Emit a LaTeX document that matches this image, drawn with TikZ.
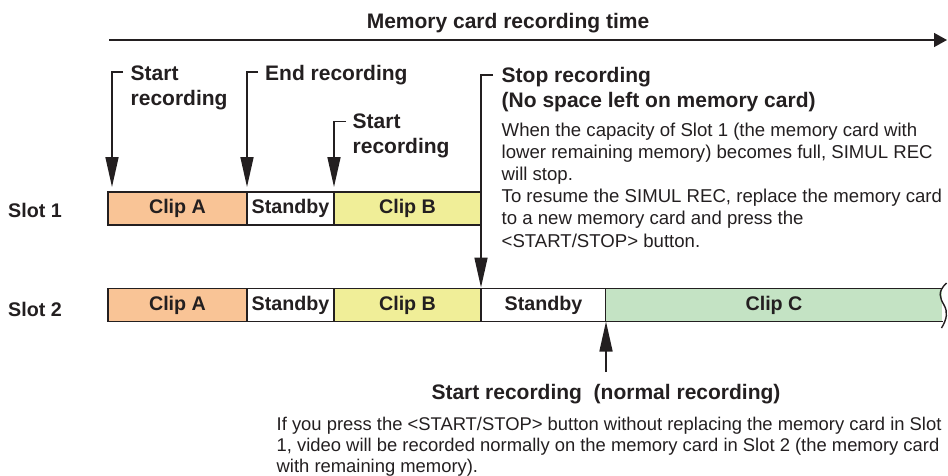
\documentclass[tikz,border=0pt]{standalone}
\usepackage{fontspec}
\setmainfont{Liberation Sans}
\usetikzlibrary{arrows.meta,positioning}
\definecolor{ink}{HTML}{231F20}
\definecolor{clipa}{HTML}{F9C496}
\definecolor{clipb}{HTML}{F0EE98}
\definecolor{clipc}{HTML}{C4E3C4}
\newcommand{\lblfont}{\fontsize{21}{25}\selectfont\bfseries}
\newcommand{\cellfont}{\fontsize{19.7}{22}\selectfont\bfseries}
\newcommand{\bodyfont}{\fontsize{18.6}{22.2}\selectfont}
\newcommand{\notefont}{\fontsize{18.4}{21}\selectfont}

\begin{document}
\begin{tikzpicture}[x=1pt,y=-1pt,
  every node/.style={text=ink},
  lbl/.style={font=\lblfont,align=left,inner sep=0pt,anchor=base west},
  body/.style={font=\bodyfont,align=left,inner sep=0pt,anchor=base west},
  cell/.style={draw=ink,line width=1.6pt,inner sep=0pt,outer sep=0pt,
    minimum height=33pt,font=\cellfont,anchor=west},
  arr/.style={-{Triangle[length=30pt,width=13pt]},line width=1.6pt,draw=ink},
  axis/.style={-{Triangle[length=13pt,width=14pt]},line width=1.6pt,draw=ink}]
  \useasboundingbox (0,0) rectangle (948,475);
  % time axis
  \node[font=\lblfont,inner sep=0pt,anchor=base] (title) at (508,28) {Memory card recording time};
  \coordinate (t0) at (109,40);
  \coordinate (t1) at (947,40);
  \draw[axis] (t0) -- (t1);
  % slot 1
  \node[font=\cellfont,inner sep=0pt,anchor=base west] (slot1) at (8,217) {Slot 1};
  \node[cell,fill=clipa,minimum width=139pt] (a1) at (108,208.5) {Clip A};
  \node[cell,right=0pt of a1,minimum width=87pt] (sb1) {Standby};
  \node[cell,fill=clipb,right=0pt of sb1,minimum width=147pt] (b1) {Clip B};
  % slot 2
  \node[font=\cellfont,inner sep=0pt,anchor=base west] (slot2) at (8,316.5) {Slot 2};
  \node[cell,fill=clipa,minimum width=139pt] (a2) at (108,305) {Clip A};
  \node[cell,right=0pt of a2,minimum width=87pt] (sb2) {Standby};
  \node[cell,fill=clipb,right=0pt of sb2,minimum width=147pt] (b2) {Clip B};
  \node[cell,right=0pt of b2,minimum width=125pt] (sb3) {Standby};
  \node[cell,draw=none,fill=clipc,right=0pt of sb3,minimum width=336pt] (c2) {Clip C};
  \draw[draw=ink,line width=1.6pt] (c2.north west) -- (943,288.5);
  \draw[draw=ink,line width=1.6pt] (c2.south west) -- (942.5,321.5);
  \draw[draw=ink,line width=1.4pt] (946.5,283) .. controls (937,292) and (940,298) .. (944,305)
    .. controls (948,312) and (947,319) .. (941.5,328);
  % callouts above (base = last line)
  \coordinate (k1) at (123,72);
  \coordinate (k2) at (258,72);
  \coordinate (k3) at (346,121.5);
  \coordinate (k4) at (493,75);
  \draw[arr,shorten >=5pt] (k1) -| ([xshift=4pt]a1.north west);
  \draw[arr,shorten >=5pt] (k2) -| (sb1.north west);
  \draw[arr,shorten >=5pt] (k3) -| (b1.north west);
  \draw[arr,shorten >=1pt] (k4) -| (sb3.north west);
  \node[lbl] (l1) at (130.5,105.7) {Start\\recording};
  \node[lbl] (l2) at (265,80.5) {End recording};
  \node[lbl] (l3) at (352.5,153.5) {Start\\recording};
  \node[lbl] (l4) at (501.5,107) {Stop recording\\(No space left on memory card)};
  \node[body] (n4) at (501.5,247) {When the capacity of Slot 1 (the memory card with\\
    lower remaining memory) becomes full, SIMUL REC\\will stop.\\
    To resume the SIMUL REC, replace the memory card\\to a new memory card and press the\\
    <START/STOP> button.};
  % callout below
  \coordinate (k5) at (606,372);
  \draw[arr] (k5) -- (c2.south west);
  \node[font=\lblfont,inner sep=0pt,anchor=base] (l5) at (606,399.5) {Start recording\ \ (normal recording)};
  \node[font=\notefont,align=left,inner sep=0pt,anchor=base west] (n5) at (276.5,472)
    {If you press the <START/STOP> button without replacing the memory card in Slot\\
    1, video will be recorded normally on the memory card in Slot 2 (the memory card\\
    with remaining memory).};
\end{tikzpicture}
\end{document}
